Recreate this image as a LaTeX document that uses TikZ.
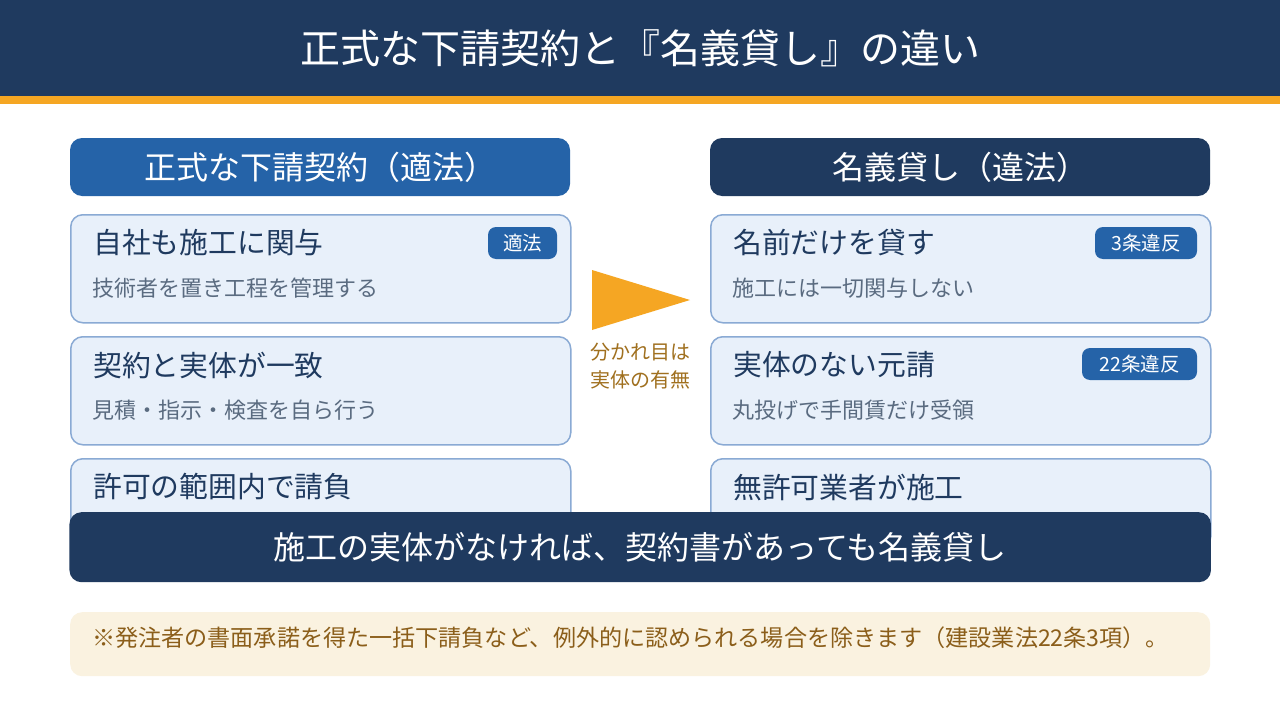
\documentclass[tikz,border=0pt]{standalone}
\usepackage{fontspec}
\setmainfont{Noto Sans CJK JP}
\definecolor{navy}{HTML}{1F3A5F}
\definecolor{hblue}{HTML}{2563A8}
\definecolor{accent}{HTML}{F5A623}
\definecolor{cardfill}{HTML}{E8F0FA}
\definecolor{cardline}{HTML}{8AAAD4}
\definecolor{cardtitle}{HTML}{1F3A5F}
\definecolor{cardsub}{HTML}{5A6B80}
\definecolor{notefill}{HTML}{FAF2E0}
\definecolor{notetext}{HTML}{8B5E1A}
\definecolor{midtext}{HTML}{A0701F}
\tikzset{
  fs/.style={font=\fontsize{#1}{#1}\selectfont},
  header/.style={rounded corners=12pt, minimum width=500pt, minimum height=58pt, inner sep=0pt, text=white, fs=32},
  card/.style={draw=cardline, line width=1.5pt, fill=cardfill, rounded corners=12pt, minimum width=500pt, minimum height=108pt, inner sep=0pt, anchor=north west},
  ctitle/.style={anchor=west, inner sep=0pt, text=cardtitle, fs=28.8},
  csub/.style={anchor=west, inner sep=0pt, text=cardsub, fs=22},
  badge/.style={fill=hblue, rounded corners=8pt, minimum height=32pt, inner sep=0pt, text=white, fs=19.5},
}
\begin{document}
\begin{tikzpicture}[x=1pt,y=-1pt]
\useasboundingbox[fill=white] (0,0) rectangle (1280,720);
% title bar
\fill[navy] (0,0) rectangle (1280,96);
\fill[accent] (0,96) rectangle (1280,104);
\node[text=white, fs=40, inner sep=0pt] (title) at (640,48) {正式な下請契約と『名義貸し』の違い};
% headers
\node[header, fill=hblue] (hl) at (320,167) {正式な下請契約（適法）};
\node[header, fill=navy] (hr) at (960,167) {名義貸し（違法）};
% left cards
\node[card] (l1) at (70,214) {};
\node[card] (l2) at (70,336) {};
\node[card, minimum height=90pt] (l3) at (70,458) {};
\node[ctitle] (l1t) at (93,243) {自社も施工に関与};
\node[csub] (l1s) at (92,288) {技術者を置き工程を管理する};
\node[badge, minimum width=69pt] (l1b) at (522.5,243) {適法};
\node[ctitle] (l2t) at (93,365) {契約と実体が一致};
\node[csub] (l2s) at (92,410) {見積・指示・検査を自ら行う};
\node[ctitle] (l3t) at (93,487) {許可の範囲内で請負};
% right cards
\node[card] (r1) at (710,214) {};
\node[card] (r2) at (710,336) {};
\node[card, minimum height=90pt] (r3) at (710,458) {};
\node[ctitle] (r1t) at (733,243) {名前だけを貸す};
\node[csub] (r1s) at (732,288) {施工には一切関与しない};
\node[badge, minimum width=102pt] (r1b) at (1146,243) {3条違反};
\node[ctitle] (r2t) at (733,365) {実体のない元請};
\node[csub] (r2s) at (732,410) {丸投げで手間賃だけ受領};
\node[badge, minimum width=115pt] (r2b) at (1139.5,364) {22条違反};
\node[ctitle] (r3t) at (733,487) {無許可業者が施工};
% center arrow
\fill[accent] (592,270) -- (690,300) -- (592,330) -- cycle;
\node[text=midtext, fs=20, align=center, inner sep=0pt] (mid) at (640,366) {分かれ目は\\[8pt]実体の有無};
% bottom bar
\node[fill=navy, rounded corners=12pt, minimum width=1141.5pt, minimum height=70pt, inner sep=0pt, anchor=north west] (bar) at (69.25,512) {};
\node[text=white, fs=32, inner sep=0pt] (bart) at (640,547) {施工の実体がなければ、契約書があっても名義貸し};
% footnote
\node[fill=notefill, rounded corners=12pt, minimum width=1140pt, minimum height=64pt, inner sep=0pt, anchor=north west] (note) at (70,612) {};
\node[anchor=west, inner sep=0pt, text=notetext, fs=23.1] (notet) at (92,638) {※発注者の書面承諾を得た一括下請負など、例外的に認められる場合を除きます（建設業法22条3項）。};
\end{tikzpicture}
\end{document}
